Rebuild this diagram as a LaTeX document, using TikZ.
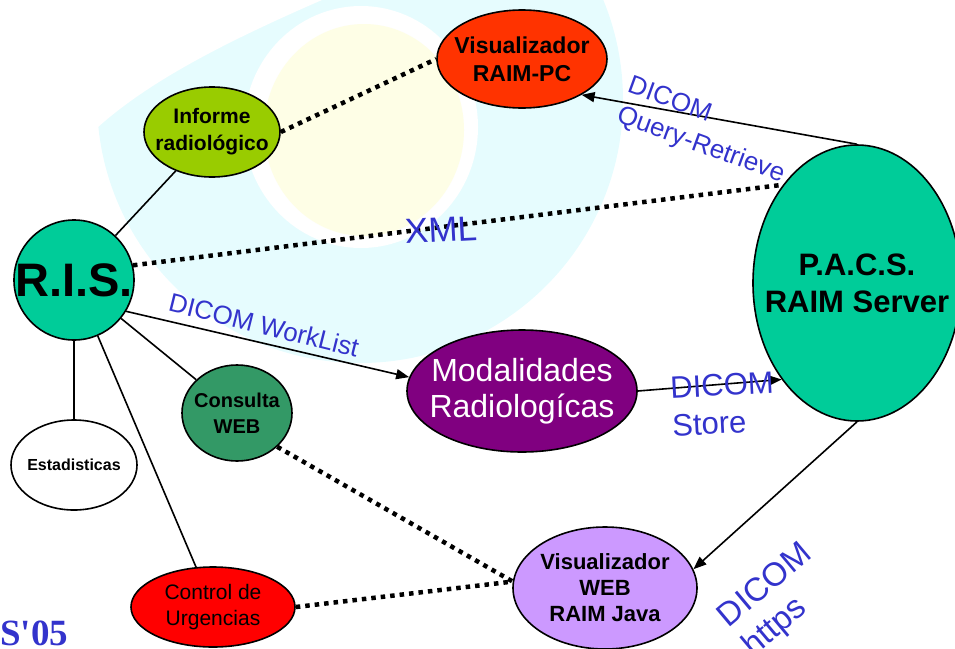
\documentclass[tikz,border=0pt]{standalone}
\usepackage{fontspec}
\setmainfont{Liberation Sans}
\newfontfamily\seriffont{Liberation Serif}
\usetikzlibrary{shapes.geometric}
\usetikzlibrary{arrows.meta}
\definecolor{labelblue}{RGB}{51,51,204}
\definecolor{bgcyan}{RGB}{230,252,254}
\definecolor{bgyellow}{RGB}{254,254,230}
\definecolor{pcred}{RGB}{255,51,0}
\definecolor{informegreen}{RGB}{153,204,0}
\definecolor{serverteal}{RGB}{0,204,153}
\definecolor{modpurple}{RGB}{128,0,128}
\definecolor{webgreen}{RGB}{51,153,102}
\definecolor{javalilac}{RGB}{204,153,255}

\begin{document}
\begin{tikzpicture}[x=1pt,y=-1pt,
	blob/.style={ellipse, draw, line width=1.6pt, inner sep=-80pt, align=center},
	link/.style={line width=1.6pt},
	flow/.style={line width=1.6pt, -{Triangle[length=13pt,width=10pt]}},
	dots/.style={line width=4.5pt, dash pattern=on 4.5pt off 5pt},
	tag/.style={text=labelblue, align=left, inner sep=0pt}]
	\useasboundingbox (0,0) rectangle (955,648);
	
	%background logo
	\begin{scope}
		\clip (0,0) rectangle (955,648);
		\fill[bgcyan] (360,100) circle (263);
		\fill[white] (0,0) -- (322,0) .. controls (230,40) and (150,80) .. (97,128) -- (0,128) -- cycle;
		\fill[white] (361,127) ellipse (117 and 121);
		\fill[bgyellow] (364,130) ellipse (100 and 106);
	\end{scope}
	
	%nodes
	\node[blob, fill=pcred, minimum width=170, minimum height=98, font=\fontsize{23}{28}\selectfont\bfseries] (vispc) at (522,59) {Visualizador\\RAIM-PC};
	\node[blob, fill=informegreen, minimum width=136, minimum height=90, font=\fontsize{21}{27}\selectfont\bfseries] (informe) at (212,132) {Informe\\radiológico};
	\node[blob, fill=serverteal, minimum width=120, minimum height=120, font=\fontsize{47}{50}\selectfont\bfseries] (ris) at (74,280) {R.I.S.};
	\node[blob, fill=serverteal, minimum width=208, minimum height=276, font=\fontsize{31}{37}\selectfont\bfseries] (pacs) at (857,283) {P.A.C.S.\\RAIM Server};
	\node[blob, fill=modpurple, text=white, minimum width=230, minimum height=122, font=\fontsize{32}{36}\selectfont] (modal) at (522,391) {Modalidades\\Radiologícas};
	\node[blob, fill=webgreen, minimum width=110, minimum height=96, font=\fontsize{20}{26}\selectfont\bfseries] (consulta) at (237,413) {Consulta\\WEB};
	\node[blob, fill=white, minimum width=126, minimum height=90, font=\fontsize{16}{20}\selectfont\bfseries] (estad) at (74,465) {Estadisticas};
	\node[blob, fill=red, minimum width=164, minimum height=80, font=\fontsize{21}{26}\selectfont] (control) at (213,607) {Control de\\Urgencias};
	\node[blob, fill=javalilac, minimum width=184, minimum height=122, font=\fontsize{22}{26}\selectfont\bfseries] (visweb) at (605,588) {Visualizador\\WEB\\RAIM Java};
	
	%connectors
	\draw[link] (ris) -- (informe);
	\draw[link] (ris) -- (estad);
	\draw[link] (ris) -- (consulta);
	\draw[link] (ris) -- (control);
	\draw[dots] (informe.east) -- (vispc.west);
	\draw[dots] (ris.14) -- (pacs.127);
	\draw[dots] (consulta.-40) -- (visweb.176);
	\draw[dots] (control.east) -- (visweb.176);
	\draw[flow] (pacs.north) -- (vispc.-31);
	\draw[flow] (ris.-31) -- (modal.173);
	\draw[flow] (modal.east) -- (pacs.232);
	\draw[flow] (pacs.south) -- (visweb.12);
	
	%labels
	\node[tag, rotate=-20, font=\fontsize{26}{32}\selectfont] (qrlabel) at (706,131) {DICOM\\Query-Retrieve};
	\node[tag, rotate=3, font=\fontsize{35}{40}\selectfont] (xmllabel) at (441,230) {XML};
	\node[tag, rotate=-14, font=\fontsize{26}{30}\selectfont] (wllabel) at (264,325) {DICOM WorkList};
	\node[tag, rotate=3, font=\fontsize{31}{38}\selectfont] (storelabel) at (723,404) {DICOM\\Store};
	\node[tag, rotate=40, font=\fontsize{33}{38}\selectfont] (httpslabel) at (778,601) {DICOM\\https};
	\node[anchor=base west, inner sep=0pt, text=labelblue, font=\seriffont\fontsize{37}{40}\selectfont\bfseries] (year) at (0,645) {S\textquotesingle 05};
\end{tikzpicture}
\end{document}
